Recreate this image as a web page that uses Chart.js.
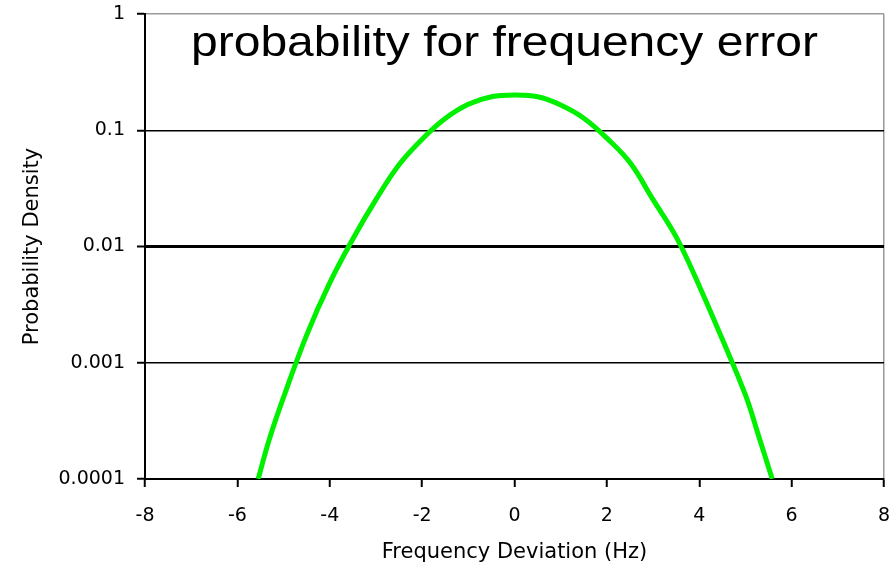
<!DOCTYPE html>
<html>
<head>
<meta charset="utf-8">
<script src="https://cdn.jsdelivr.net/npm/chart.js@4"></script>
<style>
  html, body { margin: 0; padding: 0; background: #fff; }
  #wrap { width: 891px; height: 566px; position: relative; }
</style>
</head>
<body>
<div id="wrap"><canvas id="c" width="891" height="566"></canvas></div>
<script>
// Frequency deviation (Hz) and the probability density at each deviation
const freqDeviation = [-5.55, -5.3, -5.0, -4.5, -4.0, -3.5, -3.0, -2.5, -2.0, -1.5, -1.0, -0.5, 0, 0.5, 1.0, 1.5, 2.0, 2.5, 3.0, 3.5, 4.0, 4.5, 5.0, 5.3, 5.58];
const density = [0.0001, 0.000225, 0.000505, 0.00173, 0.00486, 0.0116, 0.0253, 0.0505, 0.0838, 0.126, 0.167, 0.194, 0.201, 0.194, 0.165, 0.127, 0.0855, 0.0527, 0.0253, 0.0121, 0.00458, 0.00159, 0.000528, 0.000225, 0.0001];

// Axis ticks
const yTickValues = [0.0001, 0.001, 0.01, 0.1, 1];
const yTickLabels = ['0.0001', '0.001', '0.01', '0.1', '1'];
const xTickValues = [-8, -6, -4, -2, 0, 2, 4, 6, 8];

const chartTitle = 'probability for frequency error';
const xTitle = 'Frequency Deviation (Hz)';
const yTitle = 'Probability Density';

const smallFont = { family: '"DejaVu Sans", sans-serif', size: 19 };

// Title drawn inside the plotting area, slightly condensed vertically
const insideTitle = {
  id: 'insideTitle',
  afterDraw(chart) {
    const { ctx, chartArea } = chart;
    ctx.save();
    ctx.translate((chartArea.left + chartArea.right) / 2 - 10, chartArea.top + 42);
    ctx.scale(1, 0.88);
    ctx.font = '48px "Liberation Sans", Arial, sans-serif';
    ctx.fillStyle = '#000';
    ctx.textAlign = 'center';
    ctx.textBaseline = 'alphabetic';
    ctx.fillText(chartTitle, 0, 0);
    ctx.restore();
  }
};

new Chart(document.getElementById('c'), {
  type: 'line',
  data: {
    datasets: [{
      data: freqDeviation.map((x, i) => ({ x, y: density[i] })),
      borderColor: '#00f000',
      borderWidth: 5,
      pointRadius: 0,
      fill: false,
      tension: 0.4,
      clip: 0
    }]
  },
  options: {
    responsive: false,
    animation: false,
    devicePixelRatio: 1,
    layout: { padding: { top: 14, right: 7, left: 0, bottom: 0 } },
    plugins: { legend: { display: false }, tooltip: { enabled: false }, title: { display: false } },
    scales: {
      x: {
        type: 'linear',
        min: -8, max: 8,
        afterBuildTicks(scale) { scale.ticks = xTickValues.map(v => ({ value: v })); },
        afterFit(scale) { scale.height = 87; scale.paddingLeft = 0; scale.paddingRight = 0; },
        ticks: {
          font: smallFont, color: '#000', padding: 18, maxRotation: 0,
          callback: v => String(v)
        },
        grid: {
          drawOnChartArea: true,
          color: c => (c.tick && c.tick.value === 8) ? '#9a9a9a' : 'rgba(0,0,0,0)',
          lineWidth: 1.5,
          tickColor: '#000', tickWidth: 2, tickLength: 8
        },
        border: { color: '#000', width: 2 },
        title: {
          display: true, text: xTitle, color: '#000',
          font: { family: '"DejaVu Sans", sans-serif', size: 21 },
          padding: { top: 0, bottom: 1 }
        }
      },
      y: {
        type: 'logarithmic',
        min: 0.0001, max: 1,
        afterBuildTicks(scale) { scale.ticks = yTickValues.map(v => ({ value: v })); },
        afterFit(scale) { scale.width = 145; scale.paddingTop = 0; scale.paddingBottom = 0; },
        ticks: {
          font: smallFont, color: '#000', padding: 12,
          callback: v => yTickLabels[yTickValues.indexOf(v)]
        },
        grid: {
          color: c => (c.tick && c.tick.value === 1) ? '#9a9a9a' : '#000',
          lineWidth: c => (c.tick && c.tick.value === 0.01) ? 3 : 1.5,
          tickColor: '#000', tickWidth: 2, tickLength: 8
        },
        border: { color: '#000', width: 2 },
        title: {
          display: true, text: yTitle, color: '#000',
          font: { family: '"DejaVu Sans", sans-serif', size: 21 },
          padding: { top: 20, bottom: 0 }
        }
      }
    }
  },
  plugins: [insideTitle]
});
</script>
</body>
</html>
